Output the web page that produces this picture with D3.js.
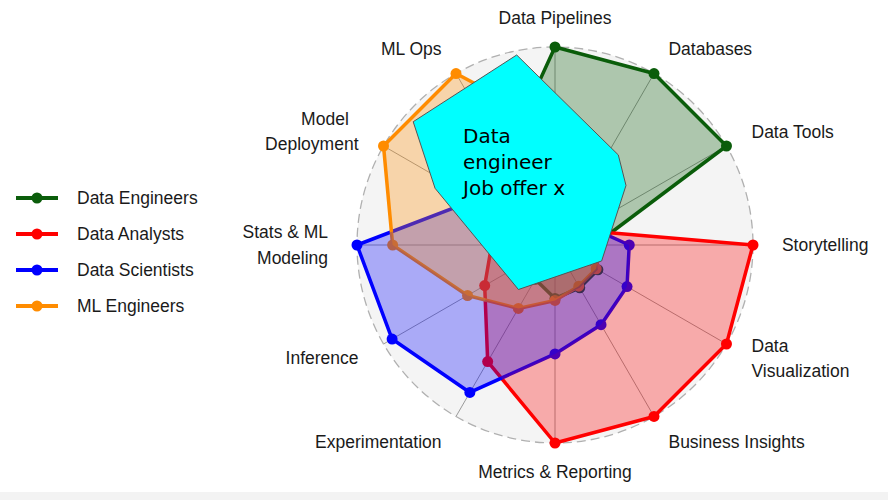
<!DOCTYPE html>
<html>
<head>
<meta charset="utf-8">
<script src="https://cdn.jsdelivr.net/npm/d3@7"></script>
<style>
  html, body { margin: 0; padding: 0; background: #ffffff; }
  svg { display: block; }
</style>
</head>
<body>
<svg id="chart" width="888" height="500"></svg>
<script>
// ---------------- data ----------------
const axes = [
  "Data Pipelines", "Databases", "Data Tools", "Storytelling",
  "Data\nVisualization", "Business Insights", "Metrics & Reporting",
  "Experimentation", "Inference", "Stats & ML\nModeling",
  "Model\u00a0\u00a0\nDeployment", "ML Ops"
];
const seriesNames = ["Data Engineers", "Data Analysts", "Data Scientists", "ML Engineers"];
const dataEngineers  = [1.00, 1.00, 1.00, 0.20, 0.25, 0.25, 0.27, 0.20, 0.15, 0.25, 0.30, 0.51];
const dataAnalysts   = [0.15, 0.15, 0.15, 1.00, 1.00, 1.00, 1.00, 0.68, 0.41, 0.32, 0.20, 0.15];
const dataScientists = [0.20, 0.20, 0.19, 0.375, 0.42, 0.465, 0.55, 0.86, 0.95, 1.00, 0.46, 0.30];
const mlEngineers    = [0.60, 0.40, 0.30, 0.23, 0.24, 0.24, 0.28, 0.37, 0.51, 0.82, 1.00, 1.00];
const seriesValues = [dataEngineers, dataAnalysts, dataScientists, mlEngineers];
const seriesColors = ["#0b5d0b", "#ff0000", "#0000ff", "#ff8c00"];

// annotation box covering the centre: [angle in degrees, radius fraction]
const boxAngles = [348.6, 35.1, 50.0, 108.9, 219.4, 295.3, 311.0];
const boxRadii  = [0.979, 0.556, 0.468, 0.249, 0.291, 0.670, 0.949];
const boxText = ["Data", "engineer", "Job offer x"];

// ---------------- layout ----------------
const svg = d3.select("#chart");
const W = 888, H = 500;
const cx = 555, cy = 245, R = 198;
const n = axes.length;

svg.append("rect").attr("x", 0).attr("y", 0).attr("width", W).attr("height", H).attr("fill", "#fff");
svg.append("rect").attr("x", 0).attr("y", 492).attr("width", W).attr("height", 8).attr("fill", "#f3f3f3");

const r = d3.scaleLinear().domain([0, 1]).range([0, R]);
const angle = d3.scaleLinear().domain([0, n]).range([0, 2 * Math.PI]);
const px = (i, v) => r(v) * Math.sin(angle(i));
const py = (i, v) => -r(v) * Math.cos(angle(i));

const g = svg.append("g").attr("transform", `translate(${cx},${cy})`);

// background disc
g.append("circle").attr("r", r(1)).attr("fill", "#f4f4f4");

// spokes
g.selectAll("line.spoke").data(axes).join("line")
  .attr("class", "spoke")
  .attr("x1", 0).attr("y1", 0)
  .attr("x2", (d, i) => px(i, 1)).attr("y2", (d, i) => py(i, 1))
  .attr("stroke", "#9a9a9a").attr("stroke-width", 1);

// dashed outer circle
g.append("circle").attr("r", r(1)).attr("fill", "none")
  .attr("stroke", "#b0b0b0").attr("stroke-width", 1.3).attr("stroke-dasharray", "9 5");

// series: outlines and markers first, translucent fills stacked on top
const radial = d3.lineRadial()
  .angle((d, i) => angle(i))
  .radius(d => r(d))
  .curve(d3.curveLinearClosed);

const lineLayer = g.append("g");
const fillLayer = g.append("g");

seriesValues.forEach((vals, si) => {
  const sg = lineLayer.append("g");
  sg.append("path").attr("d", radial(vals))
    .attr("fill", "none")
    .attr("stroke", seriesColors[si]).attr("stroke-width", 3.5)
    .attr("stroke-linejoin", "round");
  sg.selectAll("circle").data(vals).join("circle")
    .attr("cx", (d, i) => px(i, d)).attr("cy", (d, i) => py(i, d))
    .attr("r", 5.5).attr("fill", seriesColors[si]);
  fillLayer.append("path").attr("d", radial(vals))
    .attr("fill", seriesColors[si]).attr("fill-opacity", 0.3)
    .attr("stroke", "none");
});

// axis labels
const labelR = 1.146;
const lh = 25.5;
axes.forEach((name, i) => {
  const deg = 360 * i / n;
  let anchor = "middle";
  if (deg > 0.5 && deg < 179.5) anchor = "start";
  else if (deg > 180.5) anchor = "end";
  const lines = name.split("\n");
  const t = g.append("text")
    .attr("x", px(i, labelR)).attr("y", py(i, labelR))
    .attr("text-anchor", anchor)
    .attr("font-family", "'Liberation Sans', Arial, Helvetica, sans-serif")
    .attr("font-size", 17.5).attr("fill", "#1a1a1a")
    .style("white-space", "pre");
  lines.forEach((ln, k) => {
    t.append("tspan")
      .attr("x", px(i, labelR))
      .attr("y", py(i, labelR) + (k - (lines.length - 1) / 2) * lh)
      .attr("dominant-baseline", "central")
      .text(ln);
  });
});

// annotation box
const boxPts = boxAngles.map((a, k) => [a, boxRadii[k]]);
const boxLine = d3.lineRadial()
  .angle(d => d[0] * Math.PI / 180)
  .radius(d => r(d[1]))
  .curve(d3.curveLinearClosed);
g.append("path").attr("d", boxLine(boxPts))
  .attr("fill", "#00ffff").attr("stroke", "#555").attr("stroke-width", 1);

const tA = 318 * Math.PI / 180, tR = r(0.694);
const bt = g.append("text")
  .attr("font-family", "'DejaVu Sans', sans-serif")
  .attr("font-size", 20).attr("fill", "#000");
boxText.forEach((s, k) => {
  bt.append("tspan")
    .attr("x", tR * Math.sin(tA))
    .attr("y", -tR * Math.cos(tA) + k * 26)
    .text(s);
});

// legend
const leg = svg.append("g").attr("transform", "translate(16,198)");
seriesNames.forEach((name, k) => {
  const row = leg.append("g").attr("transform", `translate(0,${k * 36})`);
  row.append("line").attr("x1", 0).attr("x2", 42).attr("y1", 0).attr("y2", 0)
    .attr("stroke", seriesColors[k]).attr("stroke-width", 4);
  row.append("circle").attr("cx", 21).attr("cy", 0).attr("r", 5.5).attr("fill", seriesColors[k]);
  row.append("text").attr("x", 61).attr("y", 0)
    .attr("dominant-baseline", "central")
    .attr("font-family", "'Liberation Sans', Arial, Helvetica, sans-serif")
    .attr("font-size", 17.5).attr("fill", "#1a1a1a")
    .text(name);
});
</script>
</body>
</html>
